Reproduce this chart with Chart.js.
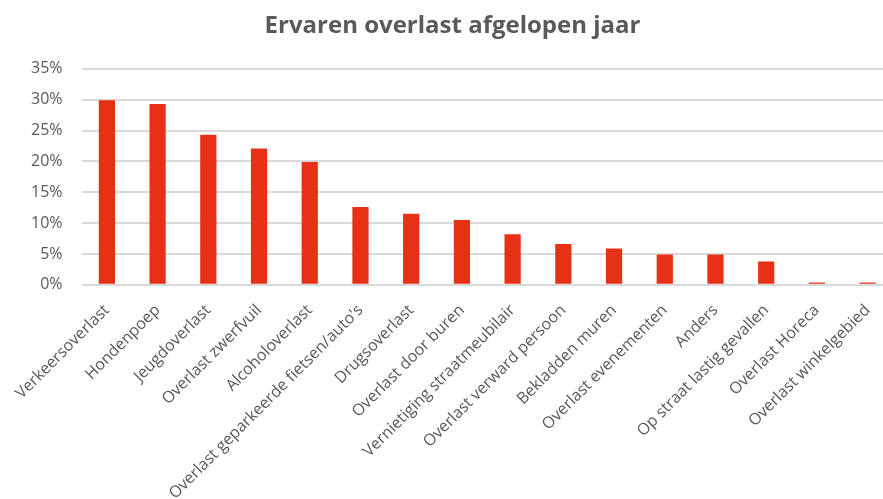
<!DOCTYPE html>
<html>
<head>
<meta charset="utf-8">
<script src="https://cdn.jsdelivr.net/npm/chart.js@4"></script>
<style>
  html, body { margin: 0; padding: 0; background: #fff; overflow: hidden; }
  /* the plot area of the original runs a little past the right edge */
  #wrap { width: 893px; height: 499px; }
</style>
</head>
<body>
<div id="wrap"><canvas id="overlastChart"></canvas></div>
<script>
const categories = [
  "Verkeersoverlast",
  "Hondenpoep",
  "Jeugdoverlast",
  "Overlast zwerfvuil",
  "Alcoholoverlast",
  "Overlast geparkeerde fietsen/auto's",
  "Drugsoverlast",
  "Overlast door buren",
  "Vernietiging straatmeubilair",
  "Overlast verward persoon",
  "Bekladden muren",
  "Overlast evenementen",
  "Anders",
  "Op straat lastig gevallen",
  "Overlast Horeca",
  "Overlast winkelgebied"
];

// percentages
const overlastValues = [29.9, 29.3, 24.3, 22.1, 19.9, 12.6, 11.5, 10.5, 8.2, 6.6, 5.9, 4.9, 4.9, 3.8, 0.4, 0.4];

const yTicks = [0, 5, 10, 15, 20, 25, 30, 35];

const ctx = document.getElementById("overlastChart").getContext("2d");

const config = {
  type: "bar",
  data: {
    labels: categories,
    datasets: [
      {
        label: "Ervaren overlast",
        data: overlastValues,
        backgroundColor: "#e63117",
        borderWidth: 0,
        barPercentage: 0.64,
        categoryPercentage: 0.5,
      },
    ],
  },
  options: {
    responsive: true,
    maintainAspectRatio: false,
    animation: false,
    layout: {
      padding: { left: 12, right: 0, top: 4, bottom: 0 },
    },
    plugins: {
      legend: { display: false },
      tooltip: { enabled: false },
      title: {
        display: true,
        text: "Ervaren overlast afgelopen jaar",
        color: "#595959",
        font: { family: "Open Sans", size: 24, weight: "bold" },
        padding: { top: 8, bottom: 28 },
      },
    },
    scales: {
      x: {
        grid: { display: false },
        border: { display: false },
        // long labels run off the bottom edge, like in the original
        afterFit: (axis) => {
          axis.height -= 12;
        },
        ticks: {
          color: "#595959",
          font: { family: "Open Sans", size: 16 },
          maxRotation: 45,
          minRotation: 45,
          autoSkip: false,
          padding: 8,
        },
      },
      y: {
        min: 0,
        max: 35,
        afterBuildTicks: (axis) => {
          axis.ticks = yTicks.map((v) => ({ value: v }));
        },
        grid: { color: "#d9d9d9", lineWidth: 2, drawTicks: false },
        border: { display: false },
        ticks: {
          color: "#595959",
          font: { family: "Open Sans", size: 16 },
          padding: 19,
          callback: (v) => v + "%",
        },
      },
    },
  },
};

window.overlastChartInstance = new Chart(ctx, config);
</script>
</body>
</html>
